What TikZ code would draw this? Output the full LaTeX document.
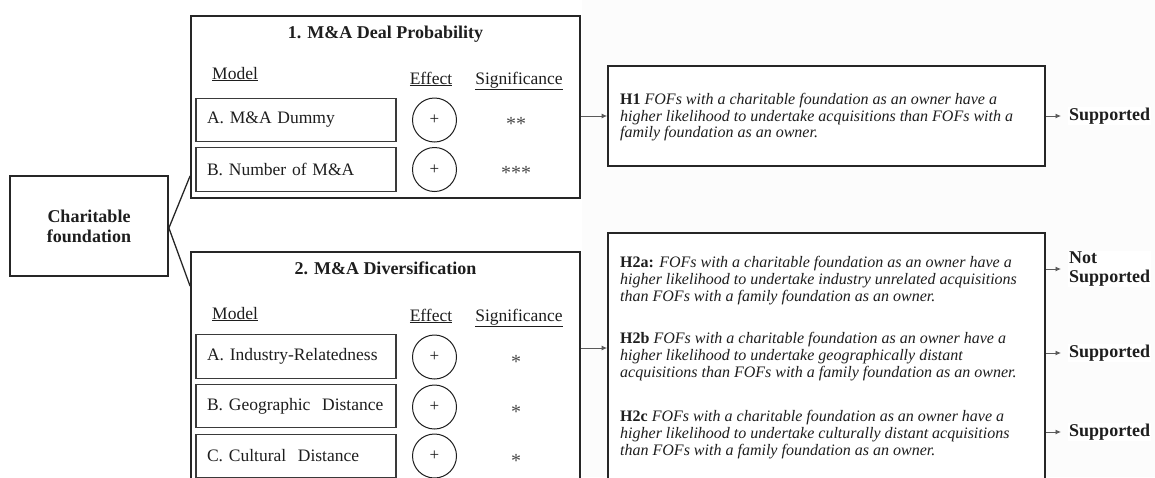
\documentclass[tikz,border=0pt]{standalone}
\usepackage{fontspec}
\setmainfont{Liberation Serif}
\usetikzlibrary{arrows.meta,calc}

\definecolor{ink}{HTML}{1E1E1E}
\definecolor{frame}{HTML}{262626}
\definecolor{rowline}{HTML}{3A3A3A}
\definecolor{conn}{HTML}{5A5A5A}
\definecolor{pane}{HTML}{FCFCFC}
\definecolor{stars}{HTML}{4A4A4A}

\begin{document}
\begin{tikzpicture}[x=1pt,y=-1pt,
  outerbox/.style={draw=frame,line width=1.8pt,inner sep=0pt,fill=white},
  rowbox/.style={draw=rowline,line width=1.3pt,minimum height=43.5pt,text width=178pt,
    inner xsep=11pt,inner ysep=0pt,align=left,anchor=center,
    font=\fontsize{17.5}{20}\selectfont,text=ink},
  effect/.style={circle,draw=ink,line width=1pt,minimum size=44pt,inner sep=0pt,
    font=\fontsize{17}{18}\selectfont,text=ink},
  sig/.style={font=\fontsize{20}{22}\selectfont,text=stars,anchor=base,inner sep=0pt},
  boxtitle/.style={font=\bfseries\fontsize{18}{21}\selectfont,text=ink,anchor=base,inner sep=0pt},
  colhead/.style={font=\fontsize{17.5}{20}\selectfont,text=ink,inner sep=0pt},
  hyp/.style={font=\itshape\fontsize{16}{16.7}\selectfont,text=ink,align=left,
    anchor=north west,inner sep=0pt},
  verdict/.style={font=\bfseries\fontsize{18}{19}\selectfont,text=ink,fill=white,
    inner sep=1pt,anchor=west,align=left},
  arr/.style={draw=conn,line width=0.9pt,-{Latex[length=5.5pt,width=5pt]}},
  link/.style={draw=frame,line width=1.3pt},
]
\useasboundingbox (0,0) rectangle (1155,477);
\fill[pane] (582,0) rectangle (1155,477);

% source node
\node[outerbox,minimum width=158pt,minimum height=100pt,align=center,
  font=\bfseries\fontsize{18}{20}\selectfont,text=ink] (cf) at (89,226)
  {Charitable\\foundation};

% block 1: deal probability
\node[outerbox,minimum width=389pt,minimum height=182pt] (box1) at (385.5,107) {};
\node[boxtitle] (t1) at (385.5,38) {1. M\&A Deal Probability};
\node[colhead,anchor=base west] (m1) at (212,79) {\underline{Model}};
\node[colhead,anchor=base] (e1) at (431,84) {\underline{Effect}};
\node[colhead,anchor=base] (s1) at (519,84) {\underline{Significance}};
\node[rowbox] (r1a) at (296,120) {A. M\&A Dummy};
\node[rowbox] (r1b) at (296,169.5) {B. Number of M\&A};
\node[effect] (c1a) at (434.5,120) {+};
\node[effect] (c1b) at (434.5,169.5) {+};
\node[sig] (g1a) at (516,130) {**};
\node[sig] (g1b) at (516,179.5) {***};

% block 2: diversification
\node[outerbox,minimum width=389pt,minimum height=248pt] (box2) at (385.5,376) {};
\node[boxtitle] (t2) at (385.5,274) {2. M\&A Diversification};
\node[colhead,anchor=base west] (m2) at (212,319) {\underline{Model}};
\node[colhead,anchor=base] (e2) at (431,321) {\underline{Effect}};
\node[colhead,anchor=base] (s2) at (519,321) {\underline{Significance}};
\node[rowbox] (r2a) at (296,356.5) {A. Industry-Relatedness};
\node[rowbox] (r2b) at (296,406) {B. Geographic\ \ Distance};
\node[rowbox] (r2c) at (296,456) {C. Cultural\ \ Distance};
\node[effect] (c2a) at (434.5,357) {+};
\node[effect] (c2b) at (434.5,407) {+};
\node[effect] (c2c) at (434.5,456) {+};
\node[sig] (g2a) at (516,368) {*};
\node[sig] (g2b) at (516,418) {*};
\node[sig] (g2c) at (516,467) {*};

% hypotheses
\node[outerbox,minimum width=437pt,minimum height=100pt] (h1) at (826.5,116) {};
\node[hyp] (h1t) at (620,93)
  {\textbf{\upshape H1} FOFs with a charitable foundation as an owner have a\\
   higher likelihood to undertake acquisitions than FOFs with a\\
   family foundation as an owner.};

\node[outerbox,minimum width=437pt,minimum height=267pt] (h2) at (826.5,366.5) {};
\node[hyp] (h2at) at (620,256.5)
  {\textbf{\upshape H2a:} FOFs with a charitable foundation as an owner have a\\
   higher likelihood to undertake industry unrelated acquisitions\\
   than FOFs with a family foundation as an owner.};
\node[hyp] (h2bt) at (620,332.5)
  {\textbf{\upshape H2b} FOFs with a charitable foundation as an owner have a\\
   higher likelihood to undertake geographically distant\\
   acquisitions than FOFs with a family foundation as an owner.};
\node[hyp] (h2ct) at (620,410.5)
  {\textbf{\upshape H2c} FOFs with a charitable foundation as an owner have a\\
   higher likelihood to undertake culturally distant acquisitions\\
   than FOFs with a family foundation as an owner.};

% outcomes
\node[verdict] (v1) at (1068,116) {Supported};
\node[verdict] (v2a) at (1068,269) {Not\\Supported};
\node[verdict] (v2b) at (1068,353) {Supported};
\node[verdict] (v2c) at (1068,432) {Supported};

% connectors
\draw[link] ($(box1.south west)+(0,-23)$) -- ($(cf.east)+(0,2)$) -- ($(box2.north west)+(0,35)$);
\coordinate (lvl2) at (0,348);
\draw[arr] (box1.east |- h1.west) -- (h1.west);
\draw[arr] (box2.east |- lvl2) -- (h2.west |- lvl2);
\draw[arr,shorten >=7pt] (h1.east |- v1.west) -- (v1.west);
\draw[arr,shorten >=7pt] (h2.east |- v2a.west) -- (v2a.west);
\draw[arr,shorten >=7pt] (h2.east |- v2b.west) -- (v2b.west);
\draw[arr,shorten >=7pt] (h2.east |- v2c.west) -- (v2c.west);
\end{tikzpicture}
\end{document}
